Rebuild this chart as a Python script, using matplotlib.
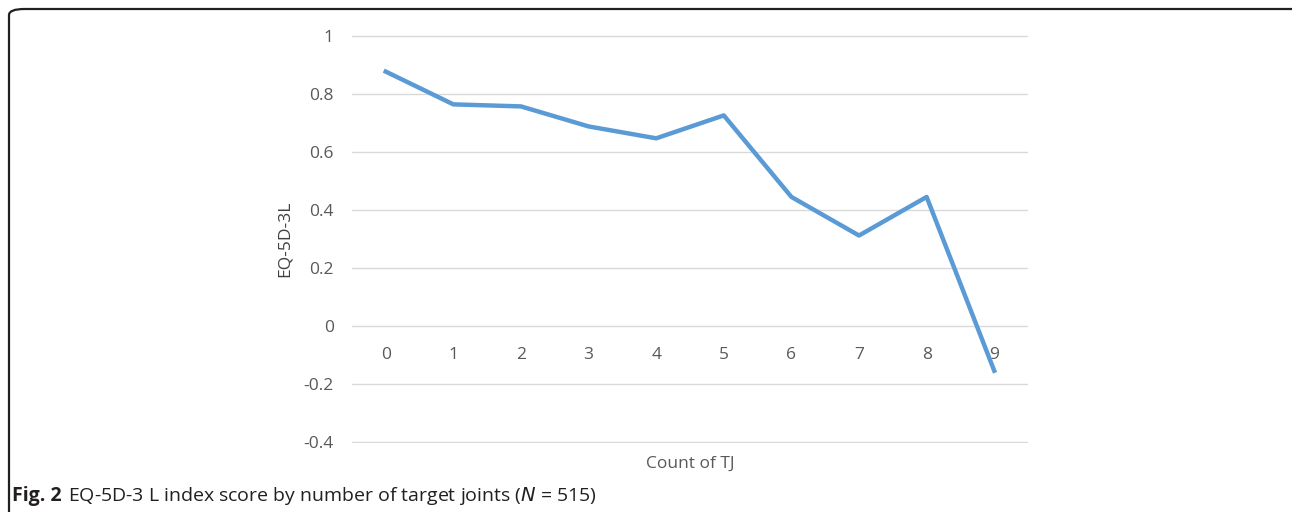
import matplotlib
matplotlib.use("Agg")
import matplotlib.pyplot as plt
from matplotlib.patches import FancyBboxPatch

# data
tj_count = ["0", "1", "2", "3", "4", "5", "6", "7", "8", "9"]
eq5d_score = [0.877, 0.764, 0.757, 0.688, 0.647, 0.726, 0.445, 0.312, 0.445, -0.154]
y_ticks = [-0.4, -0.2, 0, 0.2, 0.4, 0.6, 0.8, 1]
y_tick_labels = ["-0.4", "-0.2", "0", "0.2", "0.4", "0.6", "0.8", "1"]

plt.rcParams["font.family"] = ["Open Sans", "DejaVu Sans"]

fig = plt.figure(figsize=(12.92, 5.12), dpi=100)
ax = fig.add_axes([0.2724, 0.1348, 0.7957 - 0.2724, 0.9316 - 0.1348])

x = list(range(len(tj_count)))
ax.plot(x, eq5d_score, color="#5B9BD5", linewidth=3.2, solid_joinstyle="round", zorder=3)

ax.set_xlim(-0.5, len(tj_count) - 0.5)
ax.set_ylim(-0.403, 1.003)
ax.set_yticks(y_ticks)
ax.set_yticklabels(y_tick_labels)
ax.yaxis.grid(True, color="#D9D9D9", linewidth=1)
ax.set_axisbelow(True)
for s in ax.spines.values():
    s.set_visible(False)
ax.tick_params(axis="y", length=0, pad=13, labelsize=12.5, labelcolor="#595959")
ax.set_xticks([])

# category labels sit just under the zero line
for i, lab in enumerate(tj_count):
    ax.annotate(lab, (i, 0), xytext=(0, -21), textcoords="offset points",
                ha="center", va="center", fontsize=12.5, color="#595959")

ax.set_ylabel("EQ-5D-3L", fontsize=12.5, color="#404040", labelpad=8)
ax.text(0.5, -0.05, "Count of TJ", transform=ax.transAxes, ha="center", va="center",
        fontsize=12.5, color="#595959")

# caption and frame
fig.text(12 / 1292, 1 - 496 / 512, "Fig. 2", fontsize=14, fontweight="bold",
         ha="left", va="center", color="#231f20")
fig.text(68 / 1292, 1 - 496 / 512, "EQ-5D-3 L index score by number of target joints ($\\it{N}$ = 515)",
         fontsize=14, ha="left", va="center", color="#231f20")

frame = FancyBboxPatch((9 / 1292, -0.05), 1.2, 1 - 9 / 512 + 0.05,
                       boxstyle="round,pad=0,rounding_size=0.012",
                       transform=fig.transFigure, fill=False, edgecolor="#231f20",
                       linewidth=1.6, clip_on=False)
fig.patches.append(frame)

fig.savefig("out.png", dpi=100)
